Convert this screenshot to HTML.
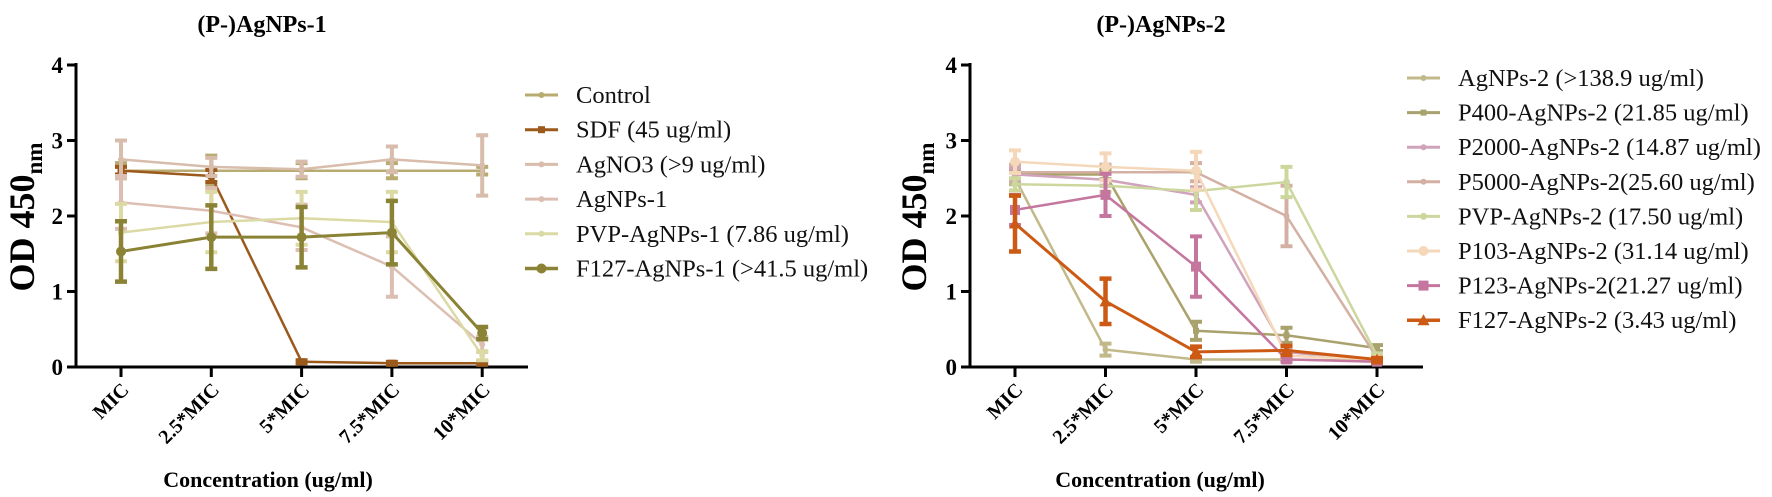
<!DOCTYPE html>
<html><head><meta charset="utf-8">
<style>
html,body{margin:0;padding:0;background:#fff;}
svg{display:block;font-family:"Liberation Serif",serif;}
</style></head>
<body>
<svg id="fig" width="1772" height="497" viewBox="0 0 1772 497" xmlns="http://www.w3.org/2000/svg"></svg>
<script>
// ---- shared data ----
const categories = ["MIC","2.5*MIC","5*MIC","7.5*MIC","10*MIC"];
const yTicks = [0,1,2,3,4];

// ---- panel 1 data ----
const p1Names = ["Control","SDF (45 ug/ml)","AgNO3 (>9 ug/ml)","AgNPs-1","PVP-AgNPs-1 (7.86 ug/ml)","F127-AgNPs-1 (>41.5 ug/ml)"];
const p1Control = [2.6,2.6,2.6,2.6,2.6];
const p1ControlErr = [0.1,0.2,0.1,0.1,0.05];
const p1SDF = [2.6,2.53,0.07,0.05,0.05];
const p1SDFErr = [0.05,0.08,0.02,0.02,0.02];
const p1AgNO3 = [2.75,2.65,2.62,2.75,2.67];
const p1AgNO3Err = [0.25,0.12,0.1,0.17,0.4];
const p1AgNPs = [2.18,2.07,1.85,1.33,0.3];
const p1AgNPsErr = [0.35,0.3,0.3,0.4,0.1];
const p1PVP = [1.78,1.92,1.97,1.92,0.15];
const p1PVPErr = [0.38,0.4,0.35,0.4,0.06];
const p1F127 = [1.53,1.72,1.72,1.78,0.45];
const p1F127Err = [0.4,0.42,0.4,0.42,0.08];

// ---- panel 2 data ----
const p2Names = ["AgNPs-2 (>138.9 ug/ml)","P400-AgNPs-2 (21.85 ug/ml)","P2000-AgNPs-2 (14.87 ug/ml)","P5000-AgNPs-2(25.60 ug/ml)","PVP-AgNPs-2 (17.50 ug/ml)","P103-AgNPs-2 (31.14 ug/ml)","P123-AgNPs-2(21.27 ug/ml)","F127-AgNPs-2 (3.43 ug/ml)"];
const p2AgNPs = [2.5,0.23,0.1,0.1,0.08];
const p2AgNPsErr = [0.08,0.08,0.03,0.03,0.02];
const p2P400 = [2.55,2.55,0.48,0.42,0.25];
const p2P400Err = [0.06,0.06,0.12,0.1,0.04];
const p2P2000 = [2.55,2.48,2.28,0.2,0.08];
const p2P2000Err = [0.08,0.08,0.1,0.05,0.02];
const p2P5000 = [2.58,2.58,2.58,2.0,0.12];
const p2P5000Err = [0.1,0.1,0.12,0.4,0.03];
const p2PVP = [2.42,2.4,2.33,2.45,0.15];
const p2PVPErr = [0.08,0.08,0.25,0.2,0.03];
const p2P103 = [2.72,2.65,2.6,0.15,0.1];
const p2P103Err = [0.15,0.18,0.25,0.04,0.03];
const p2P123 = [2.08,2.28,1.33,0.1,0.07];
const p2P123Err = [0.2,0.28,0.4,0.03,0.02];
const p2F127 = [1.9,0.87,0.2,0.22,0.1];
const p2F127Err = [0.37,0.3,0.07,0.06,0.02];

const NS="http://www.w3.org/2000/svg";
const svg=document.getElementById('fig');
function mk(tag,attrs,parent){const e=document.createElementNS(NS,tag);for(const k in attrs)e.setAttribute(k,attrs[k]);(parent||svg).appendChild(e);return e;}

function panel(cfg){
  const g=mk('g',{});
  
  
  const y=v=>cfg.y0-(v/4)*(cfg.y0-cfg.y4);
  const x=i=>cfg.x0+i*cfg.dx;
  const t=mk('text',{x:cfg.titleX,y:32,'text-anchor':'middle','font-size':24,'font-weight':'bold'},g);
  t.textContent=cfg.title;
  
  
  const ax=mk('path',{d:`M${cfg.ax},${cfg.y4-2} V${cfg.y0} H${cfg.axEnd}`,stroke:'#000','stroke-width':3,fill:'none'},g);
  
  
  yTicks.forEach(v=>{
    mk('line',{x1:cfg.ax-9,x2:cfg.ax,y1:y(v),y2:y(v),stroke:'#000','stroke-width':3},g);
    const tl=mk('text',{x:cfg.ax-13,y:y(v)+8,'text-anchor':'end','font-size':23,'font-weight':'bold'},g);
    tl.textContent=v;
    
    
  });
  categories.forEach((c,i)=>{
    mk('line',{x1:x(i),x2:x(i),y1:cfg.y0,y2:cfg.y0+10,stroke:'#000','stroke-width':3},g);
    const tl=mk('text',{x:0,y:0,'text-anchor':'end','font-size':20,'font-weight':'bold',transform:`translate(${x(i)+9},${cfg.y0+24}) rotate(-45)`},g);
    tl.textContent=c;
    
    
  });
  const xt=mk('text',{x:cfg.xTitleX,y:487,'text-anchor':'middle','font-size':22,'font-weight':'bold'},g);
  xt.textContent='Concentration (ug/ml)';
  
  
  const yt=mk('text',{x:0,y:0,'text-anchor':'middle','font-size':36,'font-weight':'bold',transform:`translate(${cfg.yTitleX},217) rotate(-90)`},g);
  
  
  yt.innerHTML='OD 450<tspan font-size="23" dy="8">nm</tspan>';
  cfg.series.forEach((s,si)=>{
    const sg=mk('g',{},g);
    
    
    const pts=s.v.map((v,i)=>`${x(i)},${y(v)}`).join(' ');
    mk('polyline',{points:pts,fill:'none',stroke:s.c,'stroke-width':s.w},sg);
    s.v.forEach((v,i)=>{
      const e=s.e[i];
      const eb=mk('path',{d:`M${x(i)},${y(v+e)} V${y(v-e)} M${x(i)-6},${y(v+e)} h12 M${x(i)-6},${y(v-e)} h12`,stroke:s.c,'stroke-width':s.w+1.5,fill:'none'},sg);
      
      
      const m=marker(s.m,x(i),y(v),s.c,s.ms,sg);
      
      
    });
    const ly=cfg.legY+si*cfg.legDy;
    const lg=mk('g',{},g);
    
    
    mk('line',{x1:cfg.legX,x2:cfg.legX+33,y1:ly,y2:ly,stroke:s.c,'stroke-width':s.w+0.5},lg);
    marker(s.m,cfg.legX+16.5,ly,s.c,s.ms,lg);
    const lt=mk('text',{x:cfg.legX+51,y:ly+8,'font-size':24.5,fill:'#111'},lg);
    lt.textContent=s.n;
  });
}
function marker(type,cx,cy,c,r,p){
  if(type==='sq') return mk('rect',{x:cx-r,y:cy-r,width:2*r,height:2*r,fill:c},p);
  if(type==='tri') return mk('polygon',{points:`${cx},${cy-r-1} ${cx+r+1},${cy+r} ${cx-r-1},${cy+r}`,fill:c},p);
  return mk('circle',{cx:cx,cy:cy,r:r,fill:c},p);
}

panel({name:'panel-agnps-1',title:'(P-)AgNPs-1',titleX:262,ax:76,axEnd:528,x0:121,dx:90.3,y0:367,y4:65,
  xTitleX:268,yTitleX:34,legX:525,legY:95,legDy:34.7,
  series:[
    {n:p1Names[0],v:p1Control,e:p1ControlErr,c:'#b8ab72',w:2.5,m:'c',ms:3},
    {n:p1Names[1],v:p1SDF,e:p1SDFErr,c:'#9b5a1c',w:2.5,m:'sq',ms:3.5},
    {n:p1Names[2],v:p1AgNO3,e:p1AgNO3Err,c:'#d8bcac',w:2.5,m:'c',ms:3},
    {n:p1Names[3],v:p1AgNPs,e:p1AgNPsErr,c:'#dcbfb2',w:2.5,m:'c',ms:3},
    {n:p1Names[4],v:p1PVP,e:p1PVPErr,c:'#dcdaa4',w:2.5,m:'c',ms:3},
    {n:p1Names[5],v:p1F127,e:p1F127Err,c:'#8a8235',w:3,m:'c',ms:5}
  ]});

panel({name:'panel-agnps-2',title:'(P-)AgNPs-2',titleX:1161,ax:970,axEnd:1423,x0:1015,dx:90.5,y0:367,y4:65,
  xTitleX:1160,yTitleX:926,legX:1407,legY:78,legDy:34.6,
  series:[
    {n:p2Names[0],v:p2AgNPs,e:p2AgNPsErr,c:'#c2b98b',w:2.5,m:'c',ms:3},
    {n:p2Names[1],v:p2P400,e:p2P400Err,c:'#aaa26c',w:2.5,m:'sq',ms:3},
    {n:p2Names[2],v:p2P2000,e:p2P2000Err,c:'#cfa3bb',w:2.5,m:'c',ms:3},
    {n:p2Names[3],v:p2P5000,e:p2P5000Err,c:'#d4b0a4',w:2.5,m:'c',ms:3},
    {n:p2Names[4],v:p2PVP,e:p2PVPErr,c:'#ccd79e',w:2.5,m:'c',ms:3.5},
    {n:p2Names[5],v:p2P103,e:p2P103Err,c:'#f5d8ba',w:2.5,m:'c',ms:5},
    {n:p2Names[6],v:p2P123,e:p2P123Err,c:'#c5769f',w:2.5,m:'sq',ms:5},
    {n:p2Names[7],v:p2F127,e:p2F127Err,c:'#cc5a14',w:3,m:'tri',ms:5}
  ]});
</script>
</body></html>
